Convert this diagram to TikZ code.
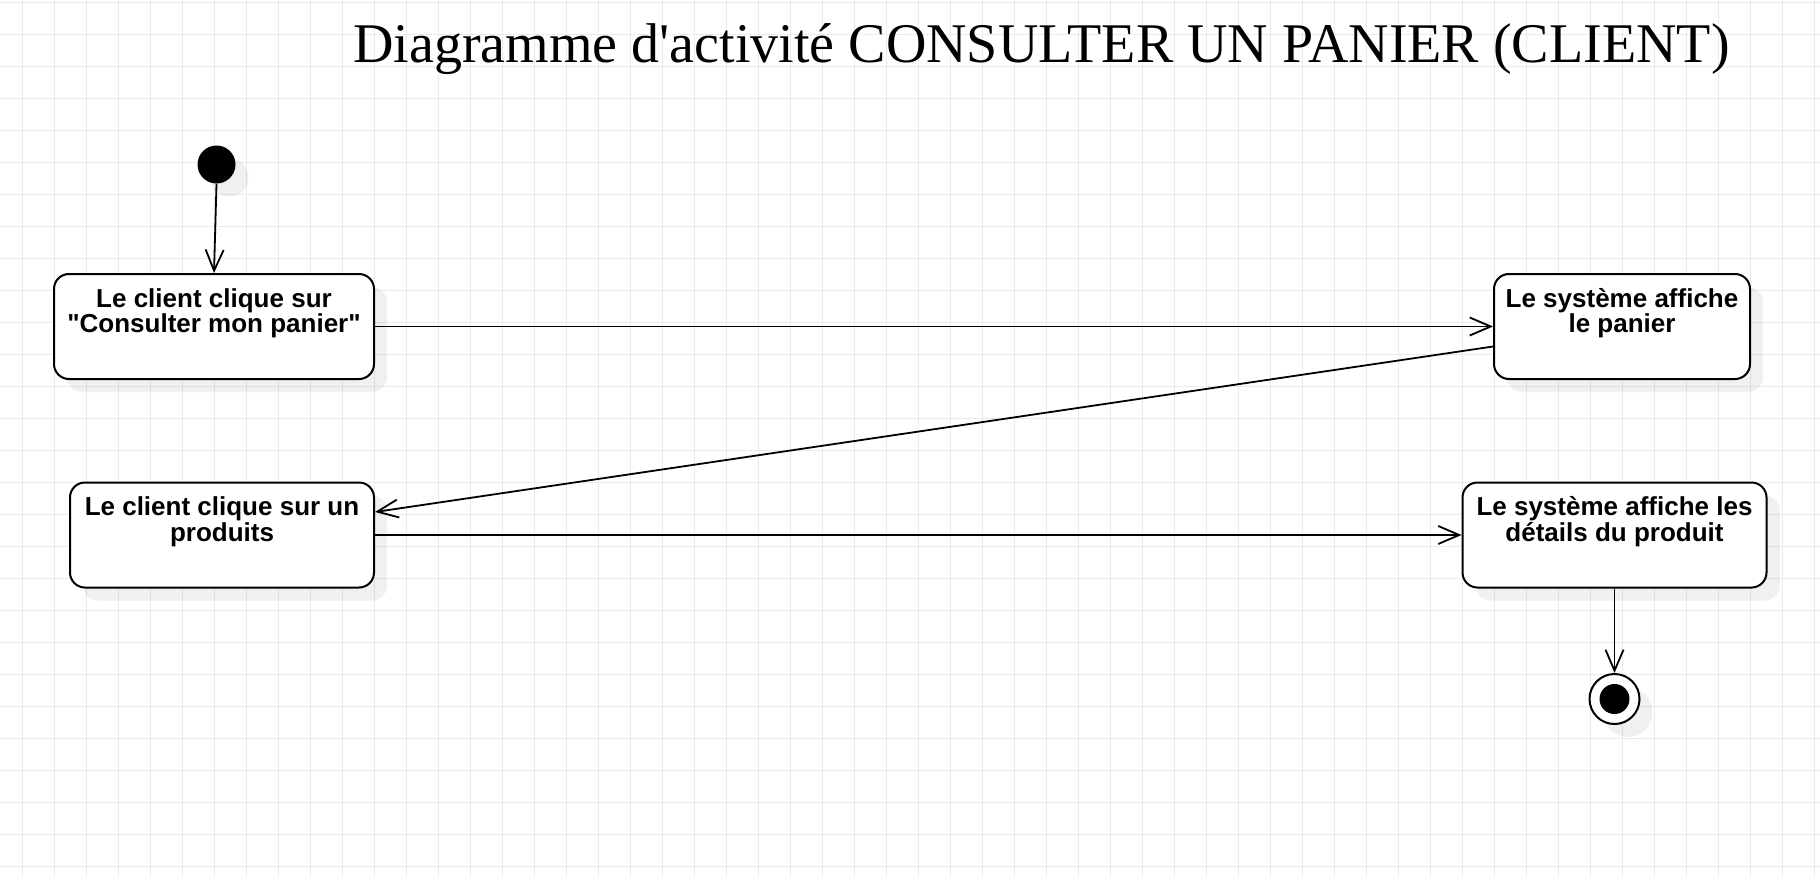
\documentclass[tikz,border=0pt]{standalone}
\usepackage{fontspec}
\newfontfamily\boxfont{Liberation Sans}
\newfontfamily\titlefont{Liberation Serif}
\usetikzlibrary{arrows.meta,shadows}
\definecolor{gridgray}{HTML}{EBEBEB}
\newcommand{\boxtext}[2]{\parbox[c][52.5pt][t]{#1}{\centering\boxfont\bfseries\fontsize{13pt}{12.75pt}\selectfont\rule{0pt}{16.6pt}#2}}
\begin{document}
\begin{tikzpicture}[x=0.5pt,y=-0.5pt,
  myshadow/.style={drop shadow={shadow xshift=6.5pt,shadow yshift=-6.5pt,fill=black,opacity=0.06}},
  actbox/.style={draw,line width=1pt,rounded corners=7.5pt,fill=white,minimum width=#1,minimum height=52.5pt,inner sep=0pt,myshadow},
  initstate/.style={circle,fill=black,minimum size=19pt,inner sep=0pt,myshadow},
  finstate/.style={circle,draw,line width=1pt,fill=white,minimum size=25pt,inner sep=0pt,myshadow,
    path picture={\fill[black] (path picture bounding box.center) circle (7.5pt);}},
  flow/.style={draw,line width=0.9pt,-{Straight Barb[length=10.5pt,width=9pt]}},
  gridline/.style={gridgray,line width=0.5pt}]
\useasboundingbox (0,0) rectangle (1820,878);
\fill[white] (0,0) rectangle (1820,878);
\foreach \i in {0,...,56} \draw[gridline] ({22.7+32*\i},0) -- ({22.7+32*\i},878);
\foreach \j in {0,...,27} \draw[gridline] (0,{2.7+32*\j}) -- (1820,{2.7+32*\j});

\node[anchor=base west,inner sep=0pt] (title) at (353,62) {\titlefont\fontsize{28pt}{33pt}\selectfont Diagramme d'activité CONSULTER UN PANIER (CLIENT)};

\node[initstate] (init) at (216.5,164.5) {};
\node[actbox=160pt] (b1) at (214,326.5) {\boxtext{156pt}{Le client clique sur\\"Consulter mon panier"}};
\node[actbox=128pt] (b2) at (1622,326.5) {\boxtext{124pt}{Le système affiche\\le panier}};
\node[actbox=152pt] (b3) at (222,535) {\boxtext{148pt}{Le client clique sur un\\produits}};
\node[actbox=152pt] (b4) at (1614.5,535) {\boxtext{148pt}{Le système affiche les\\détails du produit}};
\node[finstate] (fin) at (1614.5,699) {};

\draw[flow] (init.south) -- (b1.north);
\draw[flow] (b1.east) -- (b2.west);
\draw[flow] ([yshift=-10pt]b2.west) -- ([yshift=11.5pt]b3.east);
\draw[flow] (b3.east) -- (b4.west);
\draw[flow] (b4.south) -- (fin.north);
\end{tikzpicture}
\end{document}
